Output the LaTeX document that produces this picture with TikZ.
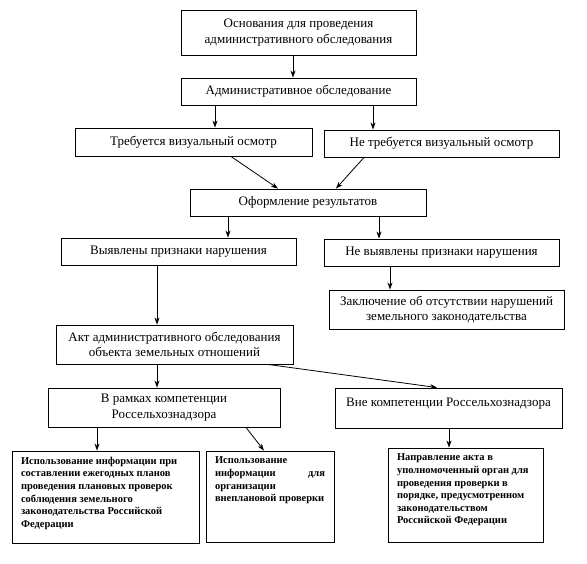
\documentclass[tikz,border=0pt]{standalone}
\usepackage{fontspec}
\setmainfont{Liberation Serif}
\usetikzlibrary{arrows.meta}
\begin{document}
\begin{tikzpicture}[x=1pt,y=-1pt,
  box/.style={draw, line width=0.9pt, inner sep=0pt, align=center,
    font=\fontsize{13}{15.5}\selectfont},
  smallbox/.style={draw, line width=0.9pt, inner ysep=4pt,
    font=\fontsize{10.5}{12.6}\selectfont\bfseries},
  arr/.style={line width=0.8pt, -{Stealth[length=7pt,width=5pt]}}]
\useasboundingbox[fill=white] (0,0) rectangle (587,563);

\node[box, minimum width=235pt, minimum height=45pt] (b1) at (298.5,32.5)
  {Основания для проведения\\административного обследования};
\node[box, minimum width=235pt, minimum height=27pt] (b2) at (298.5,91.5)
  {Административное обследование};
\node[box, minimum width=237pt, minimum height=28pt] (b3) at (193.5,142)
  {Требуется визуальный осмотр};
\node[box, minimum width=235pt, minimum height=27pt] (b4) at (441.5,143.5)
  {Не требуется визуальный осмотр};
\node[box, minimum width=236pt, minimum height=27pt] (b5) at (308,202.5)
  {Оформление результатов};
\node[box, minimum width=235pt, minimum height=27pt] (b6) at (178.5,251.5)
  {Выявлены признаки нарушения};
\node[box, minimum width=235pt, minimum height=27pt] (b7) at (441.5,252.5)
  {Не выявлены признаки нарушения};
\node[box, minimum width=235pt, minimum height=39pt] (b8) at (446.5,309.5)
  {Заключение об отсутствии нарушений\\земельного законодательства};
\node[box, minimum width=237pt, minimum height=39pt] (b9) at (174.5,344.5)
  {Акт административного обследования\\объекта земельных отношений};
\node[box, minimum width=232pt, minimum height=39pt] (b10) at (164,407.5)
  {В рамках компетенции\\Россельхознадзора};
\node[box, align=none, minimum width=227pt, text height=18pt, text depth=22pt] (b11) at (448.5,408)
  {Вне компетенции Россельхознадзора};

\node[smallbox, inner xsep=9pt] (b12) at (105.5,497)
  {\parbox[c][84pt][t]{169pt}{\vspace*{2pt}\raggedright
   Использование информации при\\
   составлении ежегодных планов\\
   проведения плановых проверок\\
   соблюдения земельного\\
   законодательства Российской\\
   Федерации}};
\node[smallbox, inner xsep=9pt] (b13) at (270,496.5)
  {\parbox[c][83pt][t]{110pt}{\vspace*{2pt}\raggedright
   Использование\\
   информации\hfill для\\
   организации\\
   внеплановой проверки}};
\node[smallbox, inner xsep=9pt] (b14) at (465.5,495)
  {\parbox[c][86pt][t]{137pt}{\vspace*{2pt}\raggedright
   Направление акта в\\
   уполномоченный орган для\\
   проведения проверки в\\
   порядке, предусмотренном\\
   законодательством\\
   Российской Федерации}};

\draw[arr] ([xshift=-5.5pt]b1.south) -- ([xshift=-5.5pt]b2.north);
\draw[arr] ([xshift=-83.5pt]b2.south) -- ([xshift=21.5pt]b3.north);
\draw[arr] ([xshift=74.5pt]b2.south) -- ([xshift=-68.5pt]b4.north);
\draw[arr] ([xshift=37.5pt]b3.south) -- ([xshift=-30pt]b5.north);
\draw[arr] ([xshift=-77.5pt]b4.south) -- ([xshift=28pt]b5.north);
\draw[arr] ([xshift=-80pt]b5.south) -- ([xshift=49.5pt]b6.north);
\draw[arr] ([xshift=71pt]b5.south) -- ([xshift=-62.5pt]b7.north);
\draw[arr] ([xshift=-51.5pt]b7.south) -- ([xshift=-56.5pt]b8.north);
\draw[arr, line width=0.6pt] ([xshift=-21.5pt]b6.south) -- ([xshift=-17.5pt]b9.north);
\draw[arr] ([xshift=-17.5pt]b9.south) -- ([xshift=-7pt]b10.north);
\draw[arr] ([xshift=93.5pt]b9.south) -- ([xshift=-11.5pt]b11.north);
\draw[arr] ([xshift=-67pt]b10.south) -- ([xshift=-8.5pt]b12.north);
\draw[arr] ([xshift=82pt]b10.south) -- ([xshift=-6pt]b13.north);
\draw[arr] ([xshift=0.5pt]b11.south) -- ([xshift=-16.5pt]b14.north);
\end{tikzpicture}
\end{document}
